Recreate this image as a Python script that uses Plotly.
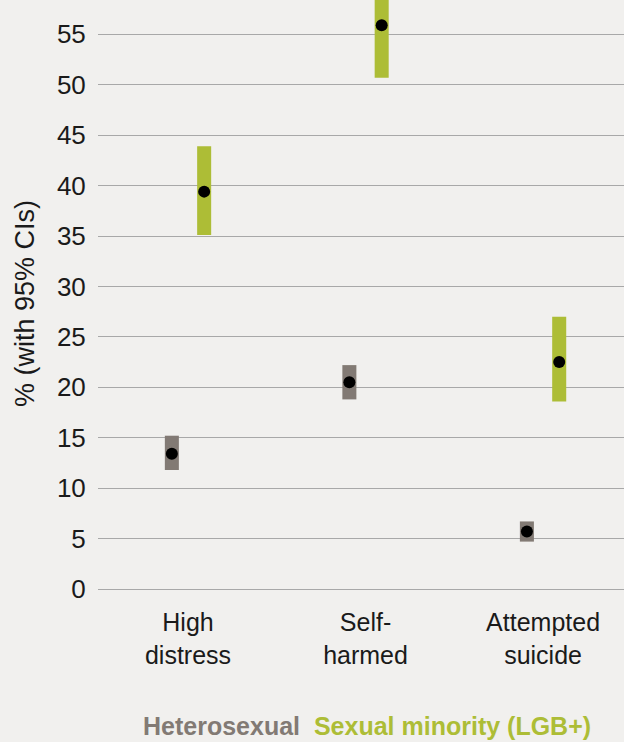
import plotly.graph_objects as go

categories = ["High<br>distress", "Self-<br>harmed", "Attempted<br>suicide"]
hetero_est = [13.4, 20.5, 5.7]
hetero_lo = [11.8, 18.8, 4.7]
hetero_hi = [15.2, 22.2, 6.7]
minority_est = [39.4, 55.9, 22.5]
minority_lo = [35.1, 50.7, 18.6]
minority_hi = [43.9, 61.0, 27.0]
y_ticks = [0, 5, 10, 15, 20, 25, 30, 35, 40, 45, 50, 55]

GRAY = "#827A74"
GREEN = "#ADBD36"
BG = "#F1F0EE"
FONT = "Liberation Sans"
TXT = "#1a1a1a"

offset = 0.091
bw = 0.079
idx = list(range(len(categories)))
xh = [i - offset for i in idx]
xm = [i + offset for i in idx]

fig = go.Figure()
fig.add_trace(go.Bar(x=xh, base=hetero_lo, y=[h - l for h, l in zip(hetero_hi, hetero_lo)],
                     width=bw, marker=dict(color=GRAY, line=dict(width=0)), name="Heterosexual"))
fig.add_trace(go.Bar(x=xm, base=minority_lo, y=[h - l for h, l in zip(minority_hi, minority_lo)],
                     width=bw, marker=dict(color=GREEN, line=dict(width=0)), name="Sexual minority (LGB+)"))
fig.add_trace(go.Scatter(x=xh, y=hetero_est, mode="markers",
                         marker=dict(color="black", size=12), showlegend=False))
fig.add_trace(go.Scatter(x=xm, y=minority_est, mode="markers",
                         marker=dict(color="black", size=12), showlegend=False))

fig.update_layout(
    width=624, height=742,
    margin=dict(l=98, r=0, t=0, b=143),
    paper_bgcolor=BG, plot_bgcolor=BG,
    barmode="overlay", showlegend=False,
    font=dict(family=FONT, color=TXT, size=22),
    xaxis=dict(range=[-0.507, 2.456], tickmode="array", tickvals=idx, ticktext=categories,
               showgrid=False, zeroline=False, showline=False,
               ticks="outside", ticklen=1, tickcolor=BG,
               tickfont=dict(size=25, family=FONT, color=TXT)),
    yaxis=dict(range=[-0.99, 58.4], tickmode="array", tickvals=y_ticks,
               showgrid=True, gridcolor="#A8A8A8", gridwidth=1,
               zeroline=True, zerolinecolor="#A8A8A8", zerolinewidth=1,
               showline=False, ticks="outside", ticklen=6, tickcolor=BG,
               tickfont=dict(size=26, family=FONT, color=TXT)),
    annotations=[
        dict(text="% (with 95% CIs)", textangle=-90, xref="paper", yref="paper",
             x=-0.1388, y=0.494, xanchor="center", yanchor="middle", showarrow=False,
             font=dict(size=27, family=FONT, color=TXT)),
        dict(text=f"<b><span style='color:{GRAY}'>Heterosexual</span>  "
                  f"<span style='color:{GREEN}'>Sexual minority (LGB+)</span></b>",
             xref="paper", yref="paper", x=0.511, y=-0.212, xanchor="center", yanchor="middle",
             showarrow=False, font=dict(size=25, family=FONT)),
    ],
)

fig.write_html("out.html", config={"displayModeBar": False},
               post_script=f"document.body.style.margin='0';document.body.style.background='{BG}';"
                           "document.body.style.overflow='hidden';")
